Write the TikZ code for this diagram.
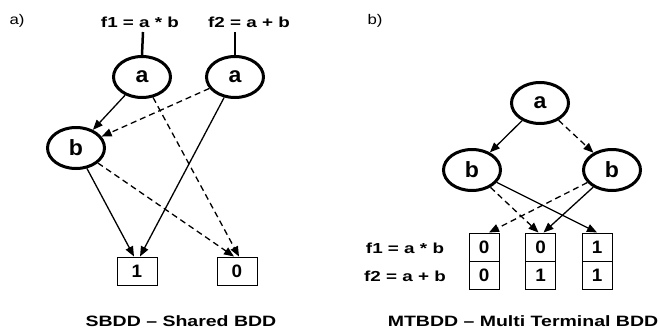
\documentclass[tikz,border=0pt]{standalone}
\usepackage{fontspec}
\setmainfont{Liberation Sans}
\usetikzlibrary{shapes.geometric,arrows.meta}
\newcommand\wx[2]{\scalebox{#1}[1]{#2}}
\tikzset{
  bddnode/.style={ellipse,draw,line width=3pt,minimum width=57pt,minimum height=41pt,inner sep=0pt,
    font=\fontsize{22}{22}\selectfont\bfseries},
  termbox/.style={draw,line width=1pt,minimum width=40pt,minimum height=28pt,inner sep=0pt,
    font=\fontsize{18}{18}\selectfont\bfseries},
  cell/.style={draw,line width=1pt,minimum width=30pt,minimum height=28pt,inner sep=0pt,
    font=\fontsize{18}{18}\selectfont\bfseries},
  flabel/.style={inner sep=0pt,font=\fontsize{14.5}{14.5}\selectfont\bfseries},
  caption/.style={inner sep=0pt,font=\fontsize{15}{15}\selectfont\bfseries},
  panel/.style={inner sep=0pt,font=\fontsize{14}{14}\selectfont},
  hi/.style={line width=1.3pt,-{Triangle[length=10pt,width=8pt]}},
  lo/.style={hi,dash pattern=on 6pt off 4pt},
  root/.style={line width=2.5pt}
}
\begin{document}
\begin{tikzpicture}[x=1pt,y=-1pt]
\useasboundingbox (0,0) rectangle (660,329);
% ---------- a) SBDD ----------
\node[panel] (pa) at (17,21) {\wx{1.2}{a)}};
\node[flabel] (f1) at (140,22) {\wx{1.3}{f1 = a * b}};
\node[flabel] (f2) at (249,22) {\wx{1.3}{f2 = a + b}};
\node[bddnode] (a1) at (142,77) {\wx{1.05}{a}};
\node[bddnode] (a2) at (235,77) {\wx{1.05}{a}};
\node[bddnode] (b1) at (76,148) {\wx{1.05}{b}};
\node[termbox] (one) at (137,271) {\wx{1.05}{1}};
\node[termbox] (zero) at (237,271) {\wx{1.05}{0}};
\coordinate (f1s) at (143,32);
\coordinate (f2s) at (235,32);
\draw[root] (f1s) -- (a1.north);
\draw[root] (f2s) -- (a2.north);
\draw[hi] (a1) -- (b1);
\draw[lo] (a2) -- (b1);
\draw[lo] (a1) -- ([xshift=2pt]zero.north);
\draw[hi] (a2) -- ([xshift=3pt]one.north);
\draw[hi] (b1) -- ([xshift=-3pt]one.north);
\draw[lo] (b1) -- ([xshift=-3pt]zero.north);
\node[caption] (capa) at (181,321) {\wx{1.3}{SBDD – Shared BDD}};
% ---------- b) MTBDD ----------
\node[panel] (pb) at (375,21) {\wx{1.2}{b)}};
\node[bddnode] (ra) at (540,103) {\wx{1.05}{a}};
\node[bddnode] (rbl) at (472,170) {\wx{1.05}{b}};
\node[bddnode] (rbr) at (612,170) {\wx{1.05}{b}};
\node[cell] (c1t) at (484,247) {\wx{1.05}{0}};
\node[cell] (c1b) at (484,275) {\wx{1.05}{0}};
\node[cell] (c2t) at (540.5,247) {\wx{1.05}{0}};
\node[cell] (c2b) at (540.5,275) {\wx{1.05}{1}};
\node[cell] (c3t) at (597,247) {\wx{1.05}{1}};
\node[cell] (c3b) at (597,275) {\wx{1.05}{1}};
\node[flabel] (g1) at (405,248) {\wx{1.3}{f1 = a * b}};
\node[flabel] (g2) at (405,276) {\wx{1.3}{f2 = a + b}};
\draw[hi] (ra) -- (rbl);
\draw[lo] (ra) -- (rbr);
\draw[lo] (rbl) -- ([xshift=-2pt]c2t.north);
\draw[hi] (rbl) -- (c3t.north);
\draw[lo] (rbr) -- ([xshift=5pt]c1t.north);
\draw[hi] (rbr) -- ([xshift=3pt]c2t.north);
\node[caption] (capb) at (523,321) {\wx{1.3}{MTBDD – Multi Terminal BDD}};
\end{tikzpicture}
\end{document}
